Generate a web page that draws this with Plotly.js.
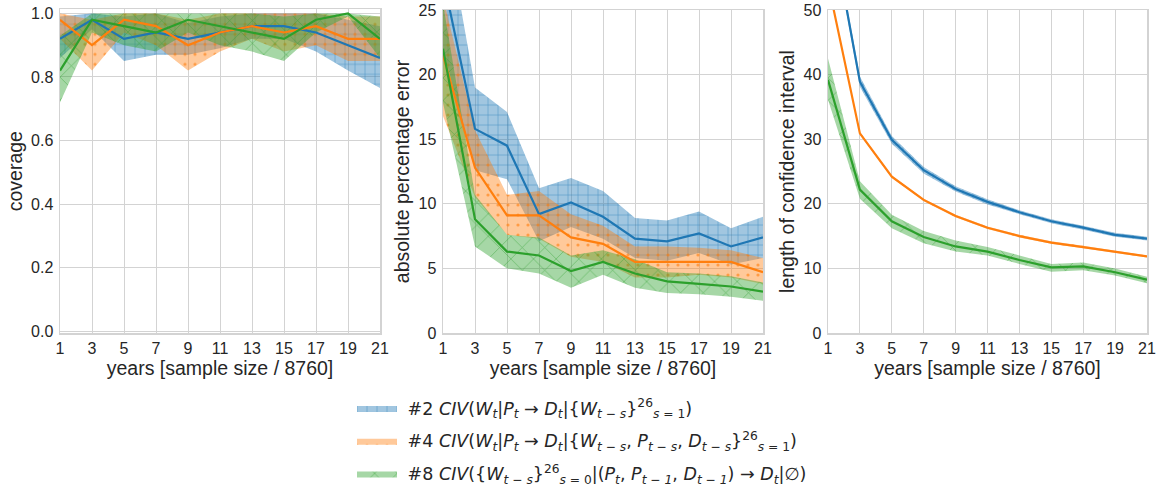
<!DOCTYPE html>
<html>
<head>
<meta charset="utf-8">
<script src="https://cdn.plot.ly/plotly-3.0.1.min.js"></script>
<style>html,body{margin:0;padding:0;background:#fff;}#chart{width:1158px;height:493px;}</style>
</head>
<body>
<div id="chart"></div>
<script>
// ---- data ----
const years = [1, 3, 5, 7, 9, 11, 13, 15, 17, 19, 21];
const xTicks = [1, 3, 5, 7, 9, 11, 13, 15, 17, 19, 21];

const seriesNames = [
  '&nbsp;#2 <i>CIV</i>(<i>W<sub>t</sub></i>|<i>P<sub>t</sub></i> → <i>D<sub>t</sub></i>|{<i>W<sub>t − s</sub></i>}<sup>26</sup><sub><i>s</i> = 1</sub>)',
  '&nbsp;#4 <i>CIV</i>(<i>W<sub>t</sub></i>|<i>P<sub>t</sub></i> → <i>D<sub>t</sub></i>|{<i>W<sub>t − s</sub></i>, <i>P<sub>t − s</sub></i>, <i>D<sub>t − s</sub></i>}<sup>26</sup><sub><i>s</i> = 1</sub>)',
  '&nbsp;#8 <i>CIV</i>({<i>W<sub>t − s</sub></i>}<sup>26</sup><sub><i>s</i> = 0</sub>|(<i>P<sub>t</sub></i>, <i>P<sub>t − 1</sub></i>, <i>D<sub>t − 1</sub></i>) → <i>D<sub>t</sub></i>|∅)'
];

// coverage
const cov2Mean = [0.92, 0.98, 0.92, 0.94, 0.92, 0.94, 0.96, 0.96, 0.94, 0.90, 0.86];
const cov2Lo   = [0.86, 0.95, 0.85, 0.87, 0.87, 0.89, 0.92, 0.92, 0.88, 0.82, 0.765];
const cov2Hi   = [0.99, 1.00, 0.99, 1.00, 0.97, 0.99, 1.00, 1.00, 1.00, 0.98, 0.96];
const cov4Mean = [0.98, 0.90, 0.98, 0.96, 0.90, 0.94, 0.96, 0.94, 0.96, 0.92, 0.92];
const cov4Lo   = [0.92, 0.82, 0.94, 0.90, 0.82, 0.88, 0.92, 0.88, 0.90, 0.85, 0.85];
const cov4Hi   = [1.00, 0.98, 1.00, 1.00, 0.98, 1.00, 1.00, 1.00, 1.00, 0.99, 0.99];
const cov8Mean = [0.82, 0.98, 0.96, 0.94, 0.98, 0.96, 0.94, 0.92, 0.98, 1.00, 0.92];
const cov8Lo   = [0.72, 0.94, 0.90, 0.88, 0.94, 0.90, 0.88, 0.85, 0.94, 0.99, 0.86];
const cov8Hi   = [0.93, 1.00, 1.00, 1.00, 1.00, 1.00, 1.00, 0.99, 1.00, 1.00, 0.99];

// absolute percentage error
const ape2Mean = [27.5, 15.8, 14.5, 9.2, 10.1, 9.0, 7.3, 7.1, 7.7, 6.7, 7.4];
const ape2Lo   = [22.0, 12.6, 11.9, 7.1, 8.2, 7.3, 5.8, 5.6, 6.2, 5.3, 5.8];
const ape2Hi   = [33.0, 19.0, 17.1, 11.2, 12.0, 11.0, 8.9, 8.7, 9.4, 8.1, 9.0];
const ape4Mean = [21.5, 12.8, 9.1, 9.1, 7.4, 6.9, 5.5, 5.5, 5.5, 5.5, 4.7];
const ape4Lo   = [16.8, 10.5, 7.6, 7.3, 5.9, 5.5, 4.3, 4.3, 4.5, 4.3, 3.8];
const ape4Hi   = [26.0, 15.7, 10.7, 11.0, 9.2, 8.3, 6.7, 6.7, 6.6, 6.4, 5.8];
const ape8Mean = [22.0, 8.8, 6.3, 6.0, 4.8, 5.5, 4.6, 4.0, 3.8, 3.6, 3.2];
const ape8Lo   = [17.8, 6.7, 5.0, 4.6, 3.5, 4.5, 3.5, 3.1, 3.0, 2.8, 2.5];
const ape8Hi   = [25.5, 10.7, 7.6, 7.4, 6.0, 6.4, 5.7, 4.7, 4.6, 4.4, 3.9];

// length of confidence interval
const len2Mean = [66.0, 38.9, 29.9, 25.2, 22.3, 20.3, 18.7, 17.3, 16.3, 15.2, 14.6];
const len2Lo   = [65.2, 38.1, 29.3, 24.7, 21.9, 19.9, 18.4, 17.0, 16.0, 14.9, 14.3];
const len2Hi   = [66.8, 39.7, 30.5, 25.7, 22.7, 20.7, 19.0, 17.6, 16.6, 15.5, 14.9];
const len4Mean = [54.2, 30.9, 24.2, 20.6, 18.1, 16.3, 15.0, 14.0, 13.3, 12.6, 11.85];
const len4Lo   = [53.9, 30.7, 24.0, 20.4, 17.9, 16.1, 14.8, 13.8, 13.1, 12.4, 11.7];
const len4Hi   = [54.5, 31.1, 24.4, 20.8, 18.3, 16.5, 15.2, 14.2, 13.5, 12.8, 12.0];
const len8Mean = [39.2, 22.2, 17.3, 14.85, 13.4, 12.6, 11.3, 10.15, 10.3, 9.4, 8.25];
const len8Lo   = [36.1, 20.8, 16.2, 13.9, 12.6, 12.0, 10.7, 9.5, 9.7, 8.9, 7.7];
const len8Hi   = [42.5, 23.5, 18.3, 15.8, 14.3, 13.3, 12.0, 10.7, 10.9, 10.0, 8.7];

// ---- styles ----
const colors = ['#1f77b4', '#ff7f0e', '#2ca02c'];
const rgb = ['31,119,180', '255,127,14', '44,160,44'];
const patterns = [
  {shape: '+', size: 10, solidity: 0.12},
  {shape: '.', size: 10, solidity: 0.08},
  {shape: 'x', size: 16, solidity: 0.08}
];

const panels = [
  {xa: 'x', ya: 'y', data: [[cov2Mean, cov2Lo, cov2Hi], [cov4Mean, cov4Lo, cov4Hi], [cov8Mean, cov8Lo, cov8Hi]]},
  {xa: 'x2', ya: 'y2', data: [[ape2Mean, ape2Lo, ape2Hi], [ape4Mean, ape4Lo, ape4Hi], [ape8Mean, ape8Lo, ape8Hi]]},
  {xa: 'x3', ya: 'y3', data: [[len2Mean, len2Lo, len2Hi], [len4Mean, len4Lo, len4Hi], [len8Mean, len8Lo, len8Hi]]}
];

const traces = [];
// bands first
panels.forEach((p, pi) => {
  p.data.forEach((s, si) => {
    const [mean, lo, hi] = s;
    traces.push({
      x: years, y: lo, xaxis: p.xa, yaxis: p.ya, type: 'scatter', mode: 'lines',
      line: {width: 0, color: colors[si]}, showlegend: false, hoverinfo: 'skip'
    });
    traces.push({
      x: years, y: hi, xaxis: p.xa, yaxis: p.ya, type: 'scatter', mode: 'lines',
      line: {width: 0, color: colors[si]}, fill: 'tonexty',
      fillcolor: 'rgba(' + rgb[si] + ',0.42)',
      fillpattern: {
        shape: patterns[si].shape, size: patterns[si].size, solidity: patterns[si].solidity,
        bgcolor: 'rgba(' + rgb[si] + ',0.42)', fgcolor: 'rgba(' + rgb[si] + ',1)', fgopacity: 0.6,
        fillmode: 'replace'
      },
      name: seriesNames[si], legendgroup: 'g' + si, showlegend: pi === 0, hoverinfo: 'skip'
    });
  });
});
// mean lines on top
panels.forEach((p) => {
  p.data.forEach((s, si) => {
    traces.push({
      x: years, y: s[0], xaxis: p.xa, yaxis: p.ya, type: 'scatter', mode: 'lines',
      line: {width: 2.2, color: colors[si]}, showlegend: false, hoverinfo: 'skip'
    });
  });
});

const W = 1158, H = 493;
const fx = v => v / W;
const fy = v => (H - v) / H;
const textColor = '#262626';
const gridColor = '#d3d3d3';
const tfont = 'Liberation Sans, Arial, sans-serif';

function xaxis(l, r, anchor) {
  return {
    domain: [fx(l), fx(r)], anchor: anchor, range: [1, 21], tickvals: xTicks,
    showgrid: true, gridcolor: gridColor, gridwidth: 1, zeroline: false,
    showline: true, mirror: true, linecolor: gridColor, linewidth: 1.5,
    ticks: '', ticklabelstandoff: 0,
    tickfont: {family: tfont, size: 16, color: textColor},
    title: {text: 'years [sample size / 8760]', standoff: 4,
            font: {family: tfont, size: 19.5, color: textColor}}
  };
}
function yaxis(top, bottom, anchor, range, dtick, fmt, title) {
  return {
    domain: [fy(bottom), fy(top)], anchor: anchor, range: range, dtick: dtick, tick0: 0,
    tickformat: fmt,
    showgrid: true, gridcolor: gridColor, gridwidth: 1, zeroline: false,
    showline: true, mirror: true, linecolor: gridColor, linewidth: 1.5,
    ticks: '', ticklabelstandoff: 2,
    tickfont: {family: tfont, size: 16, color: textColor},
    title: {text: title, standoff: 3,
            font: {family: tfont, size: 19.5, color: textColor}}
  };
}

const layout = {
  width: W, height: H,
  margin: {l: 0, r: 0, t: 0, b: 0},
  paper_bgcolor: '#fff', plot_bgcolor: '#fff',
  showlegend: true,
  xaxis: xaxis(60, 380, 'y'),
  xaxis2: xaxis(443, 763, 'y2'),
  xaxis3: xaxis(828, 1147, 'y3'),
  yaxis: yaxis(9.3, 333, 'x', [-0.006, 1.013], 0.2, '.1f', 'coverage'),
  yaxis2: yaxis(10, 333, 'x2', [0, 25], 5, 'd', 'absolute percentage error'),
  yaxis3: yaxis(10, 333, 'x3', [0, 50], 10, 'd', 'length of confidence interval'),
  legend: {
    x: fx(352), y: fy(390), xanchor: 'left', yanchor: 'top',
    font: {family: 'DejaVu Sans, sans-serif', size: 17.5, color: textColor},
    itemwidth: 40, tracegroupgap: 7, bgcolor: 'rgba(0,0,0,0)', borderwidth: 0
  }
};

Plotly.newPlot('chart', traces, layout, {displayModeBar: false, staticPlot: true});
</script>
</body>
</html>
